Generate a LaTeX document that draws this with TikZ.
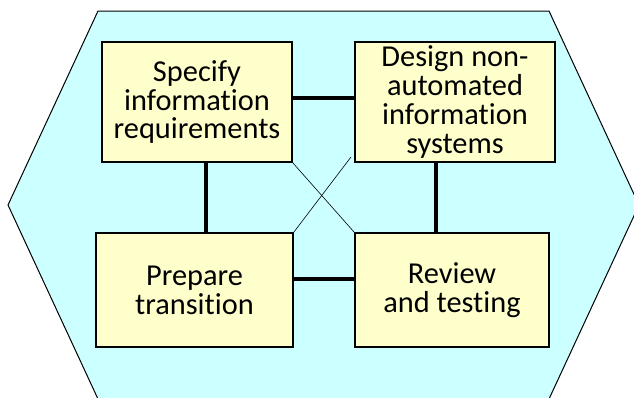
\documentclass[tikz,border=0pt]{standalone}
\usepackage[dvipsnames]{xcolor}
\usepackage{fontspec}
\setsansfont[Ligatures={NoCommon}]{Carlito}
\definecolor{HexCyan}{HTML}{CCFFFF}
\definecolor{BoxYellow}{HTML}{FFFFCC}
\tikzset{
  stage/.style={draw, line width=1.5bp, fill=BoxYellow, align=center, inner sep=0pt,
    font=\sffamily\fontsize{30.5}{29}\selectfont},
  link/.style={line width=3.8bp},
  cross/.style={line width=0.6bp}
}

\begin{document}
\begin{tikzpicture}[x=1bp,y=-1bp]
\useasboundingbox (0,0) rectangle (634,397);
\clip (0,0) rectangle (634,397);
\draw[fill=HexCyan, line width=1bp](98,11)--(549,11)--(639,205)--(549,399)--(98,399)--(8,205)--cycle;

%
\node[stage, minimum width=190bp, minimum height=120bp] (spec) at (197,102) {Specify\\information\\requirements};
\node[stage, minimum width=200bp, minimum height=120bp] (design) at (455,102) {Design non-\\automated\\information\\systems};
\node[stage, minimum width=197bp, minimum height=114bp] (prep) at (194.5,290) {Prepare\\transition};
\node[stage, minimum width=194bp, minimum height=114bp] (review) at (452,290) {Review\\and testing};

% 
\draw[link]([yshift=4bp]spec.east)--([yshift=4bp]spec.east -| design.west);
\draw[link]([xshift=9bp]spec.south)--([xshift=9bp]spec.south |- prep.north);
\draw[link]([xshift=-19bp]design.south)--([xshift=-19bp]design.south |- review.north);
\draw[link]([yshift=11bp]prep.east)--([yshift=11bp]prep.east -| review.west);

% 
\coordinate (gap) at (351,157);
\draw[cross](spec.south east)--(review.north west);
\draw[cross](prep.north east)--(gap);
\end{tikzpicture}
\end{document}
